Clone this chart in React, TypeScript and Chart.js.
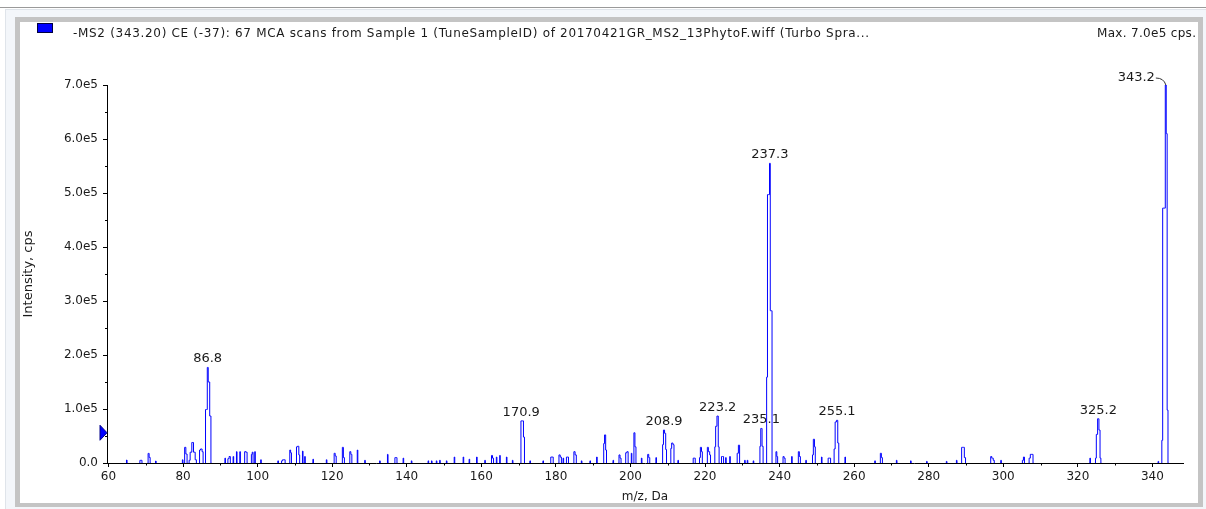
import React, { useEffect, useRef } from 'react';
import { Chart, registerables } from 'chart.js';

Chart.register(...registerables);

// ---- data ----
const mzValues = [
  64.9, 68.5, 68.9, 70.7, 71.1, 72.7, 79.9, 80.5, 81.0, 81.7, 82.1, 82.6, 83.0, 83.5,
  84.5, 84.9, 85.3, 86.1, 86.4, 86.6, 86.9, 87.4, 91.3, 92.1, 92.6, 93.5, 94.4, 95.3,
  96.6, 97.1, 98.4, 98.7, 99.3, 100.9, 105.5, 106.5, 106.9, 107.3, 108.7, 109.0, 110.5,
  110.9, 111.2, 112.1, 112.7, 114.9, 118.5, 120.6, 121.0, 122.8, 123.2, 124.8, 125.2,
  126.8, 128.8, 132.8, 134.9, 136.9, 137.3, 139.1, 141.3, 145.8, 146.7, 148.0, 148.9,
  150.7, 152.8, 155.2, 156.8, 158.8, 161.0, 162.8, 163.2, 164.1, 165.0, 166.8, 168.4,
  170.7, 171.1, 171.5, 173.1, 176.6, 178.7, 179.2, 180.9, 181.4, 182.0, 182.9, 183.3,
  184.9, 185.4, 186.9, 189.2, 191.0, 192.9, 193.2, 193.5, 195.4, 197.0, 197.4, 198.8,
  199.3, 200.3, 201.0, 201.4, 203.0, 204.7, 205.1, 206.9, 208.7, 209.0, 209.3, 209.6,
  210.9, 211.2, 211.6, 212.8, 216.9, 217.3, 218.6, 218.9, 219.2, 220.7, 221.1, 221.4,
  222.7, 223.0, 223.4, 223.7, 224.5, 224.9, 225.6, 226.7, 228.7, 229.2, 230.7, 231.4,
  233.0, 234.8, 235.1, 235.5, 236.6, 236.9, 237.2, 237.4, 237.6, 237.9, 239.1, 239.4,
  241.0, 241.4, 243.3, 245.1, 245.5, 247.1, 248.9, 249.2, 249.5, 251.3, 253.1, 253.6,
  254.7, 255.1, 255.4, 255.8, 257.6, 265.6, 267.1, 267.5, 271.4, 275.2, 279.5, 284.8,
  287.5, 288.9, 289.3, 289.8, 296.7, 297.1, 297.5, 299.4, 305.2, 305.6, 307.0, 307.5,
  307.9, 323.3, 324.8, 325.1, 325.5, 325.8, 326.1, 341.6, 342.6, 342.9, 343.3, 343.6,
  343.8, 344.1,
];

const intensityValues = [
  5500, 4900, 5000, 17800, 10400, 3700, 6000, 29000, 16600, 5000, 20000, 38000, 20000, 6000,
  24000, 26000, 21000, 99000, 99000, 177000, 150000, 87000, 9000, 8000, 12000, 12000, 21000, 21000,
  21000, 20000, 16000, 20000, 21000, 6000, 4000, 4000, 6000, 6000, 24000, 19000, 30000,
  31000, 15000, 22000, 12000, 7000, 6000, 18000, 13000, 29000, 10000, 21000, 16000,
  24000, 5000, 4000, 16000, 10000, 10000, 9000, 4000, 4000, 4000, 4000, 5000,
  4000, 11000, 11000, 7000, 11000, 5000, 14000, 9000, 11000, 14000, 11000, 5000,
  78000, 78000, 48000, 4000, 4000, 11000, 11000, 15000, 11000, 9000, 11000, 11000,
  21000, 15000, 4000, 4000, 11000, 36000, 52000, 24000, 5000, 15000, 9000, 19000,
  21000, 18000, 56000, 30000, 9000, 16000, 10000, 10000, 34000, 61000, 55000, 25000,
  27000, 37000, 34000, 5000, 9000, 9000, 10000, 29000, 21000, 29000, 21000, 15000,
  30000, 68000, 87000, 30000, 12000, 12000, 10000, 12000, 18000, 33000, 5000, 5000,
  4000, 31000, 64000, 31000, 159000, 497000, 497000, 555000, 282000, 282000, 21000, 12000,
  12000, 9000, 12000, 21000, 12000, 5000, 15000, 44000, 30000, 11000, 9000, 9000,
  26000, 76000, 79000, 37000, 11000, 4000, 18000, 10000, 5000, 4000, 3000, 3000,
  5000, 29000, 29000, 10000, 12000, 9000, 5000, 5000, 5000, 11000, 9000, 16000,
  16000, 9000, 9000, 53000, 82000, 61000, 9000, 3000, 42000, 472000, 472000, 700000,
  610000, 98000,
];

const peakLabelMz = [86.8, 170.9, 208.9, 223.2, 235.1, 237.3, 255.1, 325.2, 343.2];
const peakLabelText = ['86.8', '170.9', '208.9', '223.2', '235.1', '237.3', '255.1', '325.2', '343.2'];

const xTickValues = [60, 80, 100, 120, 140, 160, 180, 200, 220, 240, 260, 280, 300, 320, 340];
const yTickValues = [0, 100000, 200000, 300000, 400000, 500000, 600000, 700000];
const yTickLabels = ['0.0', '1.0e5', '2.0e5', '3.0e5', '4.0e5', '5.0e5', '6.0e5', '7.0e5'];
const yMinorTicks = [50000, 150000, 250000, 350000, 450000, 550000, 650000];
const xMinorTicks = [70, 90, 110, 130, 150, 170, 190, 210, 230, 250, 270, 290, 310, 330];
const xRange = [59.6, 348.2];
const yRange = [0, 700000];
const thresholdLevel = [56000];

const legendText =
  '-MS2 (343.20) CE (-37): 67 MCA scans from Sample 1 (TuneSampleID) of 20170421GR_MS2_13PhytoF.wiff (Turbo Spra...';
const maxText = 'Max. 7.0e5 cps.';
const xTitle = 'm/z, Da';
const yTitle = 'Intensity, cps';

const FONT = '"DejaVu Sans", sans-serif';
const TEXT = '#1a1a1a';

// build profile points: each cluster starts and ends on the baseline, clusters separated by gaps
function buildProfile() {
  const pts: { x: number; y: number | null }[] = [];
  for (let i = 0; i < mzValues.length; i++) {
    const prevGap = i === 0 ? Infinity : mzValues[i] - mzValues[i - 1];
    const nextGap = i === mzValues.length - 1 ? Infinity : mzValues[i + 1] - mzValues[i];
    if (prevGap > 0.55) {
      if (i > 0) pts.push({ x: mzValues[i] - 0.3, y: null });
      pts.push({ x: mzValues[i] - 0.15, y: 0 });
    }
    pts.push({ x: mzValues[i], y: intensityValues[i] });
    if (nextGap > 0.55) pts.push({ x: mzValues[i] + 0.15, y: 0 });
  }
  return pts;
}

function fillSpaced(ctx: CanvasRenderingContext2D, text: string, x: number, y: number, width: number) {
  const w = ctx.measureText(text).width;
  const c: any = ctx;
  if ('letterSpacing' in c && text.length > 1) {
    c.letterSpacing = `${(width - w) / (text.length - 1)}px`;
    ctx.fillText(text, x, y);
    c.letterSpacing = '0px';
  } else {
    ctx.save();
    ctx.translate(x, y);
    ctx.scale(width / w, 1);
    ctx.fillText(text, 0, 0);
    ctx.restore();
  }
}

const decorPlugin = {
  id: 'decor',
  beforeDatasetsDraw(chart: any) {
    const { ctx, chartArea, scales } = chart;
    const x = scales.x;
    const y = scales.y;
    ctx.save();
    ctx.font = `13px ${FONT}`;
    ctx.fillStyle = TEXT;
    ctx.textBaseline = 'alphabetic';
    peakLabelMz.forEach((m, i) => {
      let best = -1;
      let bi = -1;
      mzValues.forEach((v, j) => {
        if (Math.abs(v - m) <= 0.8 && intensityValues[j] > best) {
          best = intensityValues[j];
          bi = j;
        }
      });
      if (bi < 0) return;
      const px = x.getPixelForValue(mzValues[bi]);
      const py = y.getPixelForValue(best);
      if (px > chartArea.right - 40) {
        const tx = px - 11;
        const ty = py - 4;
        ctx.textAlign = 'right';
        ctx.fillText(peakLabelText[i], tx, ty);
        ctx.beginPath();
        ctx.strokeStyle = '#333';
        ctx.lineWidth = 1;
        ctx.moveTo(tx + 1, ty - 3);
        ctx.quadraticCurveTo(px - 2, ty - 3, px, py);
        ctx.stroke();
      } else {
        ctx.textAlign = 'center';
        ctx.fillText(peakLabelText[i], px, py - 5);
      }
    });
    ctx.restore();
  },
  afterDraw(chart: any) {
    const { ctx, chartArea, scales } = chart;
    const x = scales.x;
    const y = scales.y;
    ctx.save();
    // minor ticks
    ctx.strokeStyle = '#000';
    ctx.lineWidth = 1;
    ctx.beginPath();
    yMinorTicks.forEach((v) => {
      const py = Math.round(y.getPixelForValue(v)) + 0.5;
      ctx.moveTo(chartArea.left - 2, py);
      ctx.lineTo(chartArea.left, py);
    });
    xMinorTicks.forEach((v) => {
      const px = Math.round(x.getPixelForValue(v)) + 0.5;
      ctx.moveTo(px, chartArea.bottom);
      ctx.lineTo(px, chartArea.bottom + 2.5);
    });
    ctx.stroke();

    // threshold marker
    const ty = y.getPixelForValue(thresholdLevel[0]);
    const lx = chartArea.left;
    ctx.beginPath();
    ctx.moveTo(lx - 7, ty - 7.5);
    ctx.lineTo(lx, ty);
    ctx.lineTo(lx - 7, ty + 7.5);
    ctx.closePath();
    ctx.fillStyle = '#0000ff';
    ctx.fill();
    ctx.strokeStyle = '#00008a';
    ctx.stroke();

    // legend
    ctx.fillStyle = '#0000ff';
    ctx.fillRect(17, 1, 16, 10);
    ctx.strokeStyle = '#000040';
    ctx.strokeRect(17.5, 1.5, 15, 9);
    ctx.fillStyle = TEXT;
    ctx.font = `12px ${FONT}`;
    ctx.textBaseline = 'alphabetic';
    ctx.textAlign = 'left';
    fillSpaced(ctx, legendText, 53, 15, 796);
    ctx.textAlign = 'left';
    fillSpaced(ctx, maxText, 1077, 15, 99);

    // axis titles
    ctx.textAlign = 'center';
    ctx.textBaseline = 'middle';
    ctx.font = `12px ${FONT}`;
    ctx.fillText(xTitle, (chartArea.left + chartArea.right) / 2, 475);
    ctx.save();
    ctx.translate(9, (chartArea.top + chartArea.bottom) / 2);
    ctx.rotate(-Math.PI / 2);
    ctx.font = `13px ${FONT}`;
    ctx.fillText(yTitle, 0, 0);
    ctx.restore();
    ctx.restore();
  },
};

export default function App() {
  const ref = useRef<HTMLCanvasElement>(null);
  useEffect(() => {
    document.body.style.margin = '0';
    const canvas = ref.current;
    if (!canvas) return;
    const chart = new Chart(canvas, {
      type: 'line',
      data: {
        datasets: [
          {
            data: buildProfile() as any,
            borderColor: '#0000ff',
            borderWidth: 1,
            pointRadius: 0,
            stepped: 'middle',
            spanGaps: false,
            fill: false,
          },
        ],
      },
      options: {
        responsive: false,
        maintainAspectRatio: false,
        animation: false,
        devicePixelRatio: 1,
        layout: { padding: { left: 0, top: 63, right: 15, bottom: 0 } },
        plugins: { legend: { display: false }, tooltip: { enabled: false }, title: { display: false } },
        scales: {
          x: {
            type: 'linear',
            min: xRange[0],
            max: xRange[1],
            z: 1,
            afterFit: (s: any) => {
              s.height = 40;
            },
            afterBuildTicks: (s: any) => {
              s.ticks = xTickValues.map((v) => ({ value: v }));
            },
            ticks: {
              autoSkip: false,
              maxRotation: 0,
              padding: 3,
              color: TEXT,
              font: { family: FONT, size: 12 },
              callback: (v: any) => String(v),
            },
            grid: { drawOnChartArea: false, drawTicks: true, tickLength: 4, color: '#000', lineWidth: 1 },
            border: { display: true, color: '#000', width: 1 },
          },
          y: {
            type: 'linear',
            min: yRange[0],
            max: yRange[1],
            z: 1,
            afterFit: (s: any) => {
              s.width = 87;
            },
            afterBuildTicks: (s: any) => {
              s.ticks = yTickValues.map((v) => ({ value: v }));
            },
            ticks: {
              autoSkip: false,
              padding: 5,
              color: TEXT,
              font: { family: FONT, size: 12 },
              callback: (v: any) => {
                const i = yTickValues.indexOf(Number(v));
                return i >= 0 ? yTickLabels[i] : '';
              },
            },
            grid: { drawOnChartArea: false, drawTicks: true, tickLength: 4, color: '#000', lineWidth: 1 },
            border: { display: true, color: '#000', width: 1 },
          },
        },
      },
      plugins: [decorPlugin],
    });
    return () => chart.destroy();
  }, []);

  return (
    <div style={{ position: 'relative', width: 1206, height: 509, background: '#fff', overflow: 'hidden' }}>
      <div style={{ position: 'absolute', left: 0, top: 7, width: 1206, height: 1, background: '#9a9a9a' }} />
      <div
        style={{
          position: 'absolute',
          left: 5,
          top: 9,
          width: 1201,
          height: 500,
          background: '#f3f6fa',
          borderLeft: '1px solid #dfe4ea',
          borderTop: '1px solid #dfe4ea',
          boxSizing: 'border-box',
        }}
      />
      <div
        style={{
          position: 'absolute',
          left: 15,
          top: 17,
          width: 1188,
          height: 490,
          border: '5px solid #c4c4c4',
          borderBottomWidth: 4,
          boxSizing: 'border-box',
          background: '#fff',
        }}
      />
      <canvas
        ref={ref}
        width={1178}
        height={481}
        style={{ position: 'absolute', left: 20, top: 22, width: 1178, height: 481 }}
      />
    </div>
  );
}
